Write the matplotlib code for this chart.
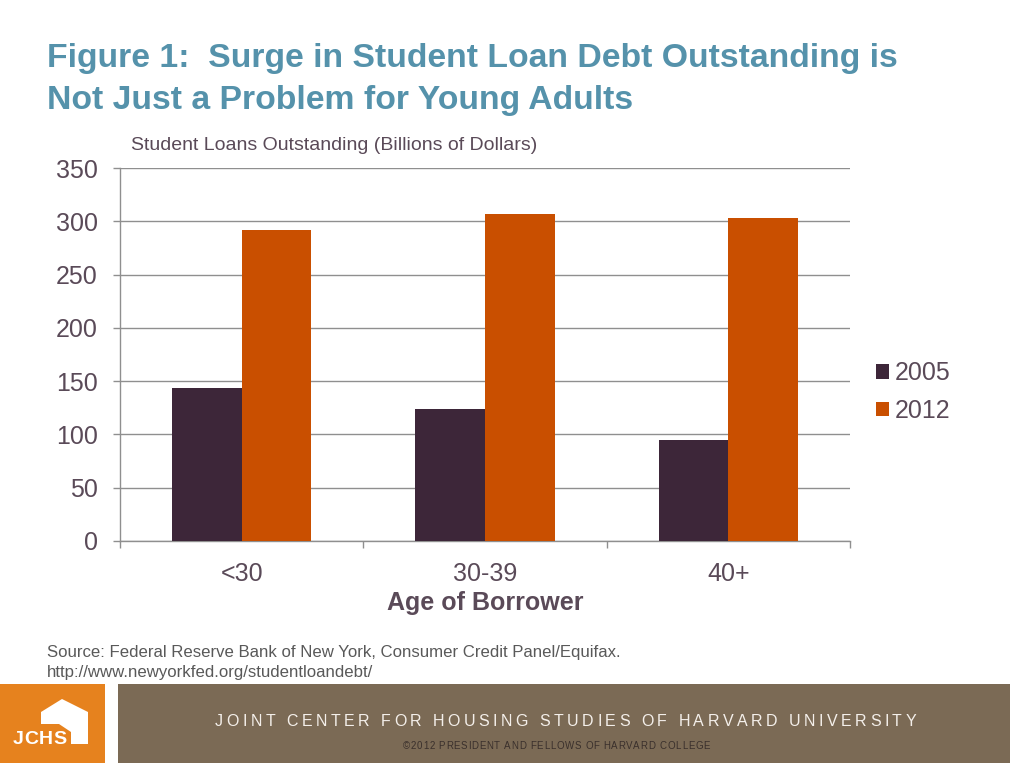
import matplotlib
matplotlib.use("Agg")
import matplotlib.pyplot as plt
import numpy as np
from matplotlib.patches import Rectangle, Polygon

plt.rcParams['font.family'] = ['Liberation Sans', 'DejaVu Sans']

# ---- data ----
categories = ["<30", "30-39", "40+"]
series_names = ["2005", "2012"]
values_2005 = [143.5, 123.8, 94.7]
values_2012 = [291.8, 306.7, 303.0]
yticks = [0, 50, 100, 150, 200, 250, 300, 350]

title_lines = ["Figure 1:  Surge in Student Loan Debt Outstanding is",
               "Not Just a Problem for Young Adults"]
subtitle_text = "Student Loans Outstanding (Billions of Dollars)"
xlabel_text = "Age of Borrower"
source_lines = ["Source: Federal Reserve Bank of New York, Consumer Credit Panel/Equifax.",
                "http://www.newyorkfed.org/studentloandebt/"]
footer_main = "JOINT CENTER FOR HOUSING STUDIES OF HARVARD UNIVERSITY"
footer_small = "\u00a92012 PRESIDENT AND FELLOWS OF HARVARD COLLEGE"
logo_text = "JCHS"

W, H = 1010, 763
fig = plt.figure(figsize=(W / 100, H / 100), dpi=100)
fig.patch.set_facecolor("white")

def fx(px):
    return px / W

def fy(py):
    return 1 - py / H

c2005 = "#3D2639"
c2012 = "#C94F00"
txt = "#5A4A58"
grid_c = "#8F8F8F"

ax = fig.add_axes([fx(120), fy(541), fx(850) - fx(120), fy(168) - fy(541)])
x = np.arange(len(categories))
bw = 0.286
b1 = ax.bar(x - bw / 2, values_2005, bw, color=c2005, label=series_names[0], zorder=3)
b2 = ax.bar(x + bw / 2, values_2012, bw, color=c2012, label=series_names[1], zorder=3)

ax.set_xlim(-0.5, len(categories) - 0.5)
ax.set_ylim(0, 350)
ax.set_yticks(yticks)
ax.set_yticklabels([str(v) for v in yticks])
ax.yaxis.grid(True, color=grid_c, linewidth=1.0, zorder=0)
ax.set_axisbelow(True)
for s in ["top", "right"]:
    ax.spines[s].set_visible(False)
ax.spines["left"].set_color(grid_c)
ax.spines["bottom"].set_color(grid_c)
ax.spines["left"].set_linewidth(1.0)
ax.spines["bottom"].set_linewidth(1.0)

ax.tick_params(axis="y", length=5, width=1.0, color=grid_c, pad=11, labelsize=18, labelcolor=txt)
ax.set_xticks(np.arange(-0.5, len(categories)), minor=False)
ax.set_xticklabels([""] * (len(categories) + 1))
ax.set_xticks(x, minor=True)
ax.set_xticklabels(categories, minor=True)
ax.tick_params(axis="x", which="major", length=5, width=1.0, color=grid_c, direction="out")
ax.tick_params(axis="x", which="minor", length=0, pad=15, labelsize=18, labelcolor=txt)

ax.set_xlabel(xlabel_text, fontsize=18, fontweight="bold", color=txt, labelpad=4)

leg = ax.legend(handles=[b1, b2], loc="center left", bbox_to_anchor=(fx(876), fy(392)),
                bbox_transform=fig.transFigure, frameon=False, fontsize=18,
                handlelength=0.52, handleheight=0.52, handletextpad=0.25,
                labelspacing=0.55, borderpad=0, borderaxespad=0)
for t in leg.get_texts():
    t.set_color(txt)

# title & subtitle
fig.text(fx(47), fy(58), title_lines[0], fontsize=24.3, fontweight="bold",
         color="#5592AB", va="center", ha="left")
fig.text(fx(47), fy(100), title_lines[1], fontsize=24.3, fontweight="bold",
         color="#5592AB", va="center", ha="left")
fig.text(fx(131), fy(146), subtitle_text, fontsize=14, color=txt, va="center", ha="left")

# source
fig.text(fx(47), fy(652), source_lines[0], fontsize=12.1, color="#595959", va="center", ha="left")
fig.text(fx(47), fy(672), source_lines[1], fontsize=12.1, color="#595959", va="center", ha="left")

# footer bands
fig.patches.append(Rectangle((0, 0), fx(105), fy(684), transform=fig.transFigure,
                             facecolor="#E6821E", edgecolor="none", zorder=1))
fig.patches.append(Rectangle((fx(118), 0), 1 - fx(118), fy(684), transform=fig.transFigure,
                             facecolor="#7B6A55", edgecolor="none", zorder=1))

# house logo
house = [(41, 712), (62, 699), (88, 712), (88, 744), (71, 744), (71, 732),
         (59, 724), (41, 724)]
fig.patches.append(Polygon([(fx(a), fy(b)) for a, b in house], closed=True,
                           transform=fig.transFigure, facecolor="white", edgecolor="none", zorder=2))

renderer = fig.canvas.get_renderer()

def spaced(x0, x1, y, s, size, color, weight="normal"):
    # letter-spaced text fitted between x0 and x1 (pixels)
    widths = []
    for ch in s:
        if ch == " ":
            widths.append(None)
            continue
        t = fig.text(0, 0, ch, fontsize=size, fontweight=weight)
        widths.append(t.get_window_extent(renderer).width)
        t.remove()
    sp = 0.278 * size * 100 / 72
    widths = [sp if w is None else w for w in widths]
    natural = sum(widths)
    track = (x1 - x0 - natural) / (len(s) - 1)
    xc = x0
    for ch, w in zip(s, widths):
        if ch != " ":
            fig.text(fx(xc), fy(y), ch, fontsize=size, color=color, fontweight=weight,
                     va="baseline", ha="left", zorder=3)
        xc += w + track

spaced(13, 67, 744, logo_text, 14, "white", weight="bold")
spaced(215, 916, 726, footer_main, 11.5, "#F4EFEA")
spaced(403, 710, 749, footer_small, 7, "#3A302C")

fig.savefig("out.png", dpi=100, facecolor="white")
